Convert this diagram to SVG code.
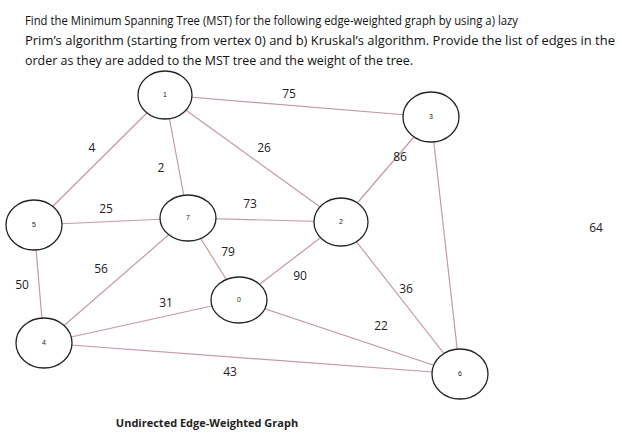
<svg xmlns="http://www.w3.org/2000/svg" width="622" height="444" viewBox="0 0 622 444">
<style>
.e{stroke:#c49a9e;stroke-width:1.2}
.n{fill:#fff;stroke:#222;stroke-width:1.3}
.nl{font-family:"Liberation Sans",sans-serif;font-size:7px;text-anchor:middle;fill:#222}
.w{font-family:"Open Sans","Liberation Sans",sans-serif;font-size:12px;text-anchor:middle;fill:#222}
.t{font-family:"Open Sans","Liberation Sans",sans-serif;font-size:13px;fill:#111}
</style>
<rect width="622" height="444" fill="#fff"/>
<text class="t" x="25" y="25" textLength="493" lengthAdjust="spacingAndGlyphs">Find the Minimum Spanning Tree (MST) for the following edge-weighted graph by using a) lazy</text>
<text class="t" x="25" y="45" textLength="590" lengthAdjust="spacingAndGlyphs">Prim’s algorithm (starting from vertex 0) and b) Kruskal’s algorithm.  Provide the list of edges in the</text>
<text class="t" x="25" y="65" textLength="388" lengthAdjust="spacingAndGlyphs">order as they are added to the MST tree and the weight of the tree.</text>
<g id="edges">
<line class="e" x1="165" y1="95" x2="431" y2="117"/>
<line class="e" x1="165" y1="95" x2="34" y2="225"/>
<line class="e" x1="165" y1="95" x2="188" y2="218"/>
<line class="e" x1="165" y1="95" x2="341" y2="222"/>
<line class="e" x1="431" y1="117" x2="341" y2="222"/>
<line class="e" x1="431" y1="117" x2="460" y2="374"/>
<line class="e" x1="34" y1="225" x2="188" y2="218"/>
<line class="e" x1="34" y1="225" x2="44" y2="343"/>
<line class="e" x1="188" y1="218" x2="341" y2="222"/>
<line class="e" x1="188" y1="218" x2="239" y2="300"/>
<line class="e" x1="188" y1="218" x2="44" y2="343"/>
<line class="e" x1="239" y1="300" x2="341" y2="222"/>
<line class="e" x1="239" y1="300" x2="44" y2="343"/>
<line class="e" x1="239" y1="300" x2="460" y2="374"/>
<line class="e" x1="44" y1="343" x2="460" y2="374"/>
<line class="e" x1="341" y1="222" x2="460" y2="374"/>
</g>
<g id="weights">
<text class="w" x="289" y="98">75</text>
<text class="w" x="92" y="152">4</text>
<text class="w" x="161" y="172">2</text>
<text class="w" x="264" y="152">26</text>
<text class="w" x="400" y="161">86</text>
<text class="w" x="596" y="232">64</text>
<text class="w" x="106" y="213">25</text>
<text class="w" x="22" y="289">50</text>
<text class="w" x="250" y="208">73</text>
<text class="w" x="228" y="256">79</text>
<text class="w" x="101" y="273">56</text>
<text class="w" x="300" y="280">90</text>
<text class="w" x="166" y="307">31</text>
<text class="w" x="381" y="330">22</text>
<text class="w" x="230" y="376">43</text>
<text class="w" x="406" y="293">36</text>
</g>
<g id="n1"><ellipse class="n" cx="165" cy="95" rx="27" ry="24"/><text class="nl" x="165" y="97">1</text></g>
<g id="n3"><ellipse class="n" cx="431" cy="117" rx="28" ry="25"/><text class="nl" x="431" y="119">3</text></g>
<g id="n5"><ellipse class="n" cx="34" cy="225" rx="28" ry="25"/><text class="nl" x="34" y="227">5</text></g>
<g id="n7"><ellipse class="n" cx="188" cy="218" rx="28" ry="23"/><text class="nl" x="188" y="220">7</text></g>
<g id="n2"><ellipse class="n" cx="341" cy="222" rx="27" ry="24"/><text class="nl" x="341" y="224">2</text></g>
<g id="n0"><ellipse class="n" cx="239" cy="300" rx="28" ry="23"/><text class="nl" x="239" y="302">0</text></g>
<g id="n4"><ellipse class="n" cx="44" cy="343" rx="28" ry="25"/><text class="nl" x="44" y="345">4</text></g>
<g id="n6"><ellipse class="n" cx="460" cy="374" rx="28" ry="25"/><text class="nl" x="460" y="376">6</text></g>
<text x="207" y="427" text-anchor="middle" font-family="'Open Sans','Liberation Sans',sans-serif" font-weight="bold" font-size="11" fill="#222">Undirected Edge-Weighted Graph</text>
</svg>
